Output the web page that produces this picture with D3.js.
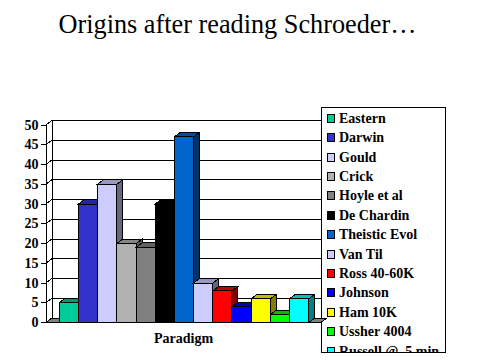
<!DOCTYPE html>
<html><head><meta charset="utf-8">
<script src="https://cdn.jsdelivr.net/npm/d3@7"></script>
<style>html,body{margin:0;padding:0;background:#fff;}svg{display:block;}</style>
</head><body>
<svg id="c" width="480" height="360"></svg>
<script>
const title = "Origins after reading Schroeder…";
const category = "Paradigm";
const series = ["Eastern","Darwin","Gould","Crick","Hoyle et al","De Chardin","Theistic Evol","Van Til","Ross 40-60K","Johnson","Ham 10K","Ussher 4004","Russell @  5 min."];
const values = [5,30,35,20,19,30,47,10,8,4,6,2,6];
const colors = ["#00CC99","#3333CC","#CCCCFF","#B2B2B2","#808080","#000000","#0066CC","#CCCCFF","#FF0000","#0000FF","#FFFF00","#00FF00","#00FFFF"];
const yTicks = [0,5,10,15,20,25,30,35,40,45,50];

(function(){
const svg = d3.select("#c");
const font = "Liberation Serif";
const dx = 6, dy = -4.5;
const pL = 46, pR = 321, pB = 322.5, pT = 125;
const y = d3.scaleLinear().domain([0,50]).range([pB, pT]);
const x = d3.scaleBand().domain(series).range([59.3, 308.7]).padding(0);
const legX = 321.5, legY = 107.5, legW = 123.5, legH = 244.5;

function shade(c,k){const r=d3.rgb(c);return d3.rgb(r.r*k,r.g*k,r.b*k).formatHex();}
const pts = a => a.map(p=>p.join(",")).join(" ");

svg.append("text").attr("x",58.5).attr("y",32.5)
  .attr("textLength",358).attr("lengthAdjust","spacingAndGlyphs")
  .style("font-family",font).style("font-size","28px").text(title);

const g = svg.append("g").attr("shape-rendering","crispEdges");
yTicks.forEach(t=>{
  const yy = y(t);
  g.append("line").attr("x1",pL+dx).attr("x2",legX).attr("y1",yy+dy).attr("y2",yy+dy).attr("stroke","#000");
  g.append("line").attr("x1",pL).attr("x2",pL+dx).attr("y1",yy).attr("y2",yy+dy).attr("stroke","#000");
  g.append("line").attr("x1",pL-5).attr("x2",pL).attr("y1",yy).attr("y2",yy).attr("stroke","#000");
  g.append("text").attr("x",38.5).attr("y",yy+4.7).attr("text-anchor","end")
    .style("font-family",font).style("font-weight","bold").style("font-size","14px").text(t);
});
g.append("line").attr("x1",pL+dx).attr("x2",pL+dx).attr("y1",y(50)+dy).attr("y2",y(0)+dy).attr("stroke","#000");
g.append("line").attr("x1",pL).attr("x2",pL).attr("y1",y(50)).attr("y2",y(0)).attr("stroke","#000");

const leg = svg.append("g");
leg.append("clipPath").attr("id","lc").append("rect").attr("x",legX).attr("y",legY).attr("width",legW).attr("height",legH);
leg.append("rect").attr("x",legX).attr("y",legY).attr("width",legW).attr("height",legH)
  .attr("fill","#fff").attr("stroke","#000").attr("shape-rendering","crispEdges");
const items = leg.append("g").attr("clip-path","url(#lc)");
series.forEach((s,i)=>{
  const cy = 118.3 + i*19.4;
  items.append("rect").attr("x",327).attr("y",cy-4).attr("width",7).attr("height",8)
    .attr("fill",colors[i]).attr("stroke","#000").attr("shape-rendering","crispEdges");
  items.append("text").attr("x",339).attr("y",cy+4.5).style("font-family",font)
    .style("font-weight","bold").style("font-size","14px").style("white-space","pre").text(s);
});

svg.append("polygon").attr("points",pts([[pL,pB],[pR,pB],[pR+dx,pB+dy],[pL+dx,pB+dy]]))
  .attr("fill","#808080").attr("stroke","#000").attr("shape-rendering","crispEdges");

const bars = svg.append("g").attr("shape-rendering","crispEdges");
series.forEach((s,i)=>{
  const x0 = x(s), w = x.bandwidth(), yt = y(values[i]), y0 = y(0);
  const c = colors[i];
  const b = bars.append("g");
  b.append("rect").attr("x",x0).attr("y",yt).attr("width",w).attr("height",y0-yt).attr("fill",c).attr("stroke","#000");
  b.append("polygon").attr("points",pts([[x0,yt],[x0+dx,yt+dy],[x0+w+dx,yt+dy],[x0+w,yt]]))
    .attr("fill",shade(c,0.75)).attr("stroke","#000");
  b.append("polygon").attr("points",pts([[x0+w,yt],[x0+w+dx,yt+dy],[x0+w+dx,y0+dy],[x0+w,y0]]))
    .attr("fill",shade(c,0.5)).attr("stroke","#000");
});

svg.append("line").attr("x1",pL).attr("x2",pR).attr("y1",pB).attr("y2",pB).attr("stroke","#000").attr("shape-rendering","crispEdges");

svg.append("text").attr("x",183.5).attr("y",343).attr("text-anchor","middle").style("font-family",font)
  .style("font-weight","bold").style("font-size","14px").text(category);
})();
</script>
</body></html>
